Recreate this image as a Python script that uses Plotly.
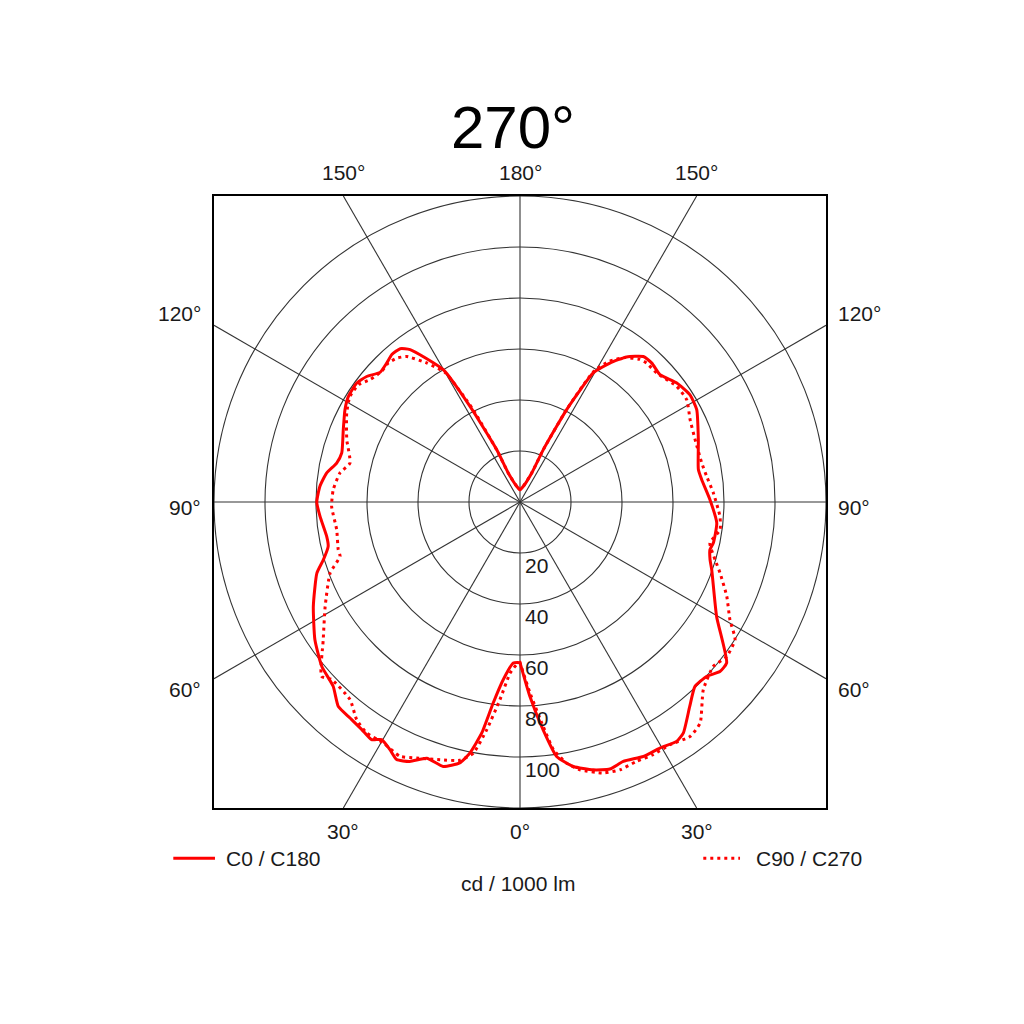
import numpy as np
import plotly.graph_objects as go

# ---- data (gamma angle in degrees, intensity in cd / 1000 lm) ----
# C0 plane (right half, solid)
c0_gamma = [0, 2.9, 5.8, 8.2, 11.4, 15.3, 18.6, 21.7, 25.9, 29.6, 33.2, 35.3, 39.7, 43.5, 47, 49.7,
            52.1, 59.8, 70.6, 73.1, 75.9, 78, 83.9, 90.7, 97, 100.3, 109.3, 117.6, 122.3, 127.2,
            132.3, 136.5, 139.7, 143.7, 147.1, 150.4, 153.2, 156, 158, 168, 180]
c0_value = [63, 76.3, 89.8, 100.8, 105.8, 108.9, 110.5, 109.5, 110.9, 111, 112.2, 110.9, 104.2, 99.7,
            100.2, 102.8, 102.7, 89.2, 79.7, 77.9, 76.8, 77.5, 77.6, 74.5, 71.8, 71.1, 74.1, 78.2,
            78.8, 77.2, 74.2, 75.1, 74.8, 70.6, 64.9, 58.2, 40.6, 22.5, 12.3, 6.3, 4.8]

# C180 plane (left half, solid)
c180_gamma = [0, 2.4, 5.4, 7.6, 9.4, 11.3, 13, 16.2, 20, 23, 25.6, 27.7, 30.2, 32, 34.8, 38.2, 41.6,
              45.4, 50.3, 56.1, 63.2, 70.7, 73.6, 77, 79.9, 85.8, 90, 94.5, 98.5, 102, 105.4, 112.3,
              117.8, 121.6, 126.1, 129.3, 132.8, 136.2, 139, 142, 144.2, 149.9, 152.4, 156, 158, 168, 180]
c180_value = [63, 63.2, 70, 79.5, 91.8, 100.4, 105, 108, 106.9, 110.5, 112, 109.7, 107.8, 109.9, 108.7,
              107.8, 107.3, 102.9, 101, 96.9, 90.8, 84.4, 80.4, 77.2, 77, 78.6, 79.7, 78.7, 76.7, 73.5,
              72.5, 74.9, 77.6, 79, 79.2, 77.7, 74.8, 75.5, 76.6, 76.3, 73.7, 60, 42.3, 22.5, 12.3, 6.3, 4.8]

# C90 plane (right half, dotted)
c90_gamma = [0, 3, 5.9, 7.7, 10.1, 12.6, 17.1, 20.5, 24.2, 27.8, 31.7, 36, 39.2, 44.3, 49.6, 53.2,
             57.4, 60.7, 65.5, 70.5, 73.5, 77.8, 82.1, 85.9, 92.7, 97.8, 102.1, 109.6, 115.8, 121.5,
             126.4, 133.3, 137.7, 140, 144, 147.5, 150.5, 153.2, 156, 158, 168, 180]
c90_value = [63, 75, 88.5, 98, 104, 107.6, 111.2, 112.1, 111.5, 112, 111.9, 113.6, 111.8, 102.9, 99.5,
             101.2, 100.1, 94.4, 89.1, 83.2, 79.8, 76.2, 79.2, 78.6, 75.9, 73.9, 72.9, 72.9, 74.1,
             76.7, 76.4, 73.7, 73.7, 73, 70, 65.5, 59, 41, 22.5, 12.3, 6.3, 4.8]

# C270 plane (left half, dotted)
c270_gamma = [0, 1.2, 3.3, 5.8, 8.3, 10.5, 13.1, 17.2, 22, 25.3, 29.6, 33.6, 36.9, 40.7, 46.7, 48.7,
              55, 61.8, 69.5, 73.2, 75.3, 81.4, 88.7, 93.8, 99.2, 102.9, 109.8, 117.2, 121.8, 126,
              129.2, 133.4, 136.5, 139.4, 142.1, 146.1, 150, 153, 156, 158, 168, 180]
c270_value = [63, 63.8, 67.2, 77.9, 90.2, 100.1, 104, 105.8, 108.3, 110.3, 108.6, 108.7, 106.7, 102.2,
              101.5, 103.6, 94.2, 86.7, 79.5, 73.7, 73.7, 72.7, 73.9, 73.4, 71.5, 68.4, 72.2, 76.4,
              78.5, 78.3, 75.9, 74.6, 75.1, 74.3, 72.3, 65.7, 58.5, 41, 22, 12, 6.3, 4.8]

ring_values = [20, 40, 60, 80, 100, 120]
ring_labels = ["20", "40", "60", "80", "100"]
spoke_angles = [0, 30, 60, 90, 120, 150]
left_angle_labels = ["120°", "90°", "60°"]
top_angle_labels = ["150°", "180°", "150°"]
bottom_angle_labels = ["30°", "0°", "30°"]
legend_labels = ["C0 / C180", "C90 / C270"]
unit_label = "cd / 1000 lm"
title_text = "270°"

RMAX = 120
RED = "#ff0000"
FONT = "Liberation Sans, Arial, sans-serif"


def to_xy(gamma, value, side):
    g = np.radians(np.asarray(gamma, dtype=float))
    v = np.asarray(value, dtype=float)
    return side * v * np.sin(g), -v * np.cos(g)


def joined(left_g, left_v, right_g, right_v):
    lx, ly = to_xy(left_g, left_v, -1)
    rx, ry = to_xy(right_g, right_v, 1)
    x = np.concatenate([lx[::-1], rx])
    y = np.concatenate([ly[::-1], ry])
    return x, y


def to_paper(v):
    return (v + RMAX) / (2 * RMAX)


fig = go.Figure()

sx, sy = joined(c180_gamma, c180_value, c0_gamma, c0_value)
dx, dy = joined(c270_gamma, c270_value, c90_gamma, c90_value)

fig.add_trace(go.Scatter(x=dx, y=dy, mode="lines", name=legend_labels[1],
                         line=dict(color=RED, width=3, dash="3px,4px", shape="spline", smoothing=0.5),
                         hoverinfo="skip"))
fig.add_trace(go.Scatter(x=sx, y=sy, mode="lines", name=legend_labels[0],
                         line=dict(color=RED, width=3, shape="spline", smoothing=0.5),
                         hoverinfo="skip"))

shapes = []
GRID = "#333333"
for r in ring_values:
    shapes.append(dict(type="circle", xref="x", yref="y", x0=-r, x1=r, y0=-r, y1=r,
                       line=dict(color=GRID, width=1.1), layer="below"))
for a in spoke_angles:
    t = np.radians(a)
    s, c = np.sin(t), np.cos(t)
    L = min(RMAX / abs(s) if abs(s) > 1e-9 else 1e9, RMAX / abs(c) if abs(c) > 1e-9 else 1e9)
    shapes.append(dict(type="line", xref="x", yref="y", x0=-L * s, y0=-L * c, x1=L * s, y1=L * c,
                       line=dict(color=GRID, width=1.1), layer="below"))

# legend sample lines
shapes.append(dict(type="line", xref="paper", yref="paper", x0=-0.0665, x1=0.0016, y0=-0.0823, y1=-0.0823,
                   line=dict(color=RED, width=3)))
shapes.append(dict(type="line", xref="paper", yref="paper", x0=0.7995, x1=0.8595, y0=-0.0823, y1=-0.0823,
                   line=dict(color=RED, width=3, dash="3px,4px")))

ann = []
fs = 21
tx = RMAX * np.tan(np.radians(30))
for lab, xx in zip(top_angle_labels, [-tx, 0, tx]):
    ann.append(dict(x=to_paper(xx), y=to_paper(129.3), xref="paper", yref="paper", text=lab,
                    showarrow=False, xanchor="center", yanchor="middle", font=dict(size=fs)))
for lab, xx in zip(bottom_angle_labels, [-tx, 0, tx]):
    ann.append(dict(x=to_paper(xx), y=to_paper(-129.2), xref="paper", yref="paper", text=lab,
                    showarrow=False, xanchor="center", yanchor="middle", font=dict(size=fs)))
for lab, yy in zip(left_angle_labels, [73.8, -2.2, -73.6]):
    ann.append(dict(x=to_paper(-124.2), y=to_paper(yy), xref="paper", yref="paper", text=lab,
                    showarrow=False, xanchor="right", yanchor="middle", font=dict(size=fs)))
    ann.append(dict(x=to_paper(123.9), y=to_paper(yy), xref="paper", yref="paper", text=lab,
                    showarrow=False, xanchor="left", yanchor="middle", font=dict(size=fs)))
for lab, r in zip(ring_labels, ring_values):
    ann.append(dict(x=1.3, y=-(r + 4.8), xref="x", yref="y", text=lab, showarrow=False,
                    xanchor="left", yanchor="middle", font=dict(size=fs)))

ann.append(dict(x=0.0163, y=-0.0823, xref="paper", yref="paper", text=legend_labels[0], showarrow=False,
                xanchor="left", yanchor="middle", font=dict(size=fs)))
ann.append(dict(x=0.8824, y=-0.0823, xref="paper", yref="paper", text=legend_labels[1], showarrow=False,
                xanchor="left", yanchor="middle", font=dict(size=fs)))
ann.append(dict(x=0.4967, y=-0.1232, xref="paper", yref="paper", text=unit_label, showarrow=False,
                xanchor="center", yanchor="middle", font=dict(size=fs)))
ann.append(dict(x=0.4886, y=1.1125, xref="paper", yref="paper", text=title_text, showarrow=False,
                xanchor="center", yanchor="middle", font=dict(size=60, color="#000000")))

axis_common = dict(range=[-RMAX, RMAX], showline=True, mirror=True, linecolor="black", linewidth=2,
                   showgrid=False, zeroline=False, showticklabels=False, ticks="", fixedrange=True)

# page body has an 8px margin, so the figure is 1008px and margins are shifted by 8px
fig.update_layout(
    width=1008, height=1008,
    margin=dict(l=206, r=190, t=188, b=208, pad=0),
    paper_bgcolor="white", plot_bgcolor="white",
    showlegend=False,
    font=dict(family=FONT, color="#1a1a1a", size=fs),
    xaxis=axis_common, yaxis=axis_common,
    shapes=shapes, annotations=ann,
)

fig.write_html("out.html")
